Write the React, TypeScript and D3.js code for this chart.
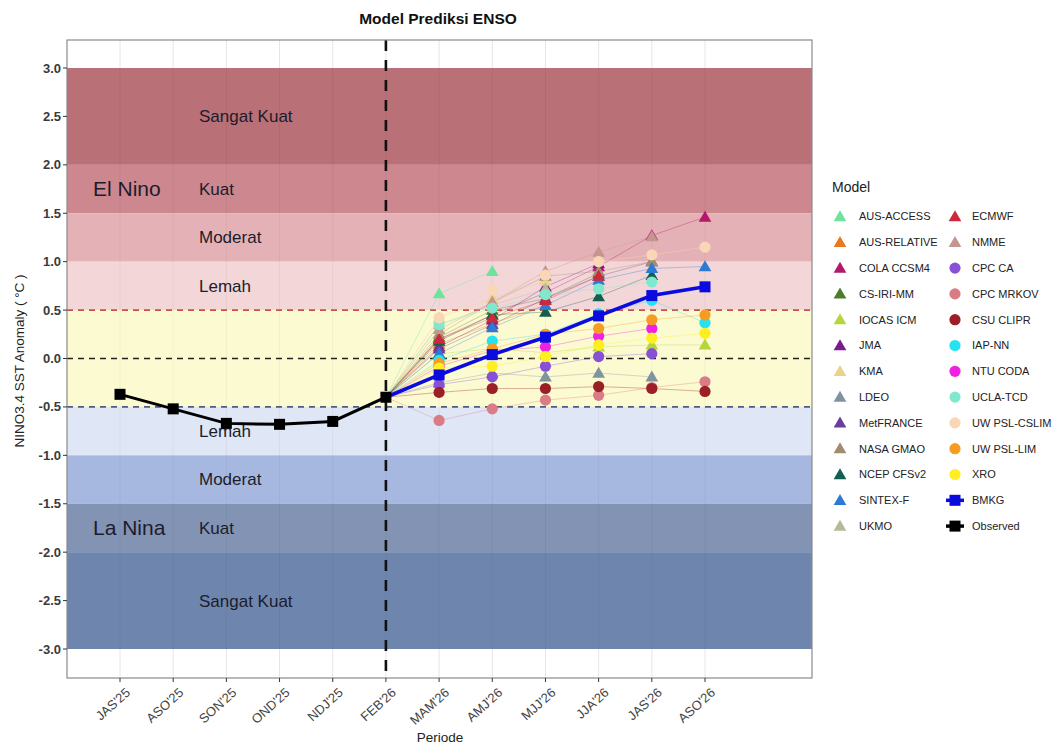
import React from 'react';
import * as d3 from 'd3';

const periods = ["JAS'25", "ASO'25", "SON'25", "OND'25", "NDJ'25", "FEB'26", "MAM'26", "AMJ'26", "MJJ'26", "JJA'26", "JAS'26", "ASO'26"];
const observedPeriods = periods.slice(0, 6);
const observedValues = [-0.37, -0.52, -0.67, -0.68, -0.65, -0.40];
const forecastPeriods = periods.slice(6);
const bmkgValues = [-0.17, 0.04, 0.22, 0.44, 0.65, 0.74];

type M = { name: string; shape: 'tri' | 'circ'; color: string; values: (number | null)[] };

const modelNames = ["AUS-ACCESS", "AUS-RELATIVE", "COLA CCSM4", "CS-IRI-MM", "IOCAS ICM", "JMA", "KMA", "LDEO", "MetFRANCE", "NASA GMAO", "NCEP CFSv2", "SINTEX-F", "UKMO", "ECMWF", "NMME", "CPC CA", "CPC MRKOV", "CSU CLIPR", "IAP-NN", "NTU CODA", "UCLA-TCD", "UW PSL-CSLIM", "UW PSL-LIM", "XRO"];
const modelShapes: ('tri' | 'circ')[] = ['tri', 'tri', 'tri', 'tri', 'tri', 'tri', 'tri', 'tri', 'tri', 'tri', 'tri', 'tri', 'tri', 'tri', 'tri', 'circ', 'circ', 'circ', 'circ', 'circ', 'circ', 'circ', 'circ', 'circ'];
const modelColors = ["#6ee39c", "#e8791f", "#b5176c", "#4d7c2c", "#b4d63c", "#7a1a8e", "#ead48c", "#7f949e", "#6a3f9c", "#a18c6c", "#125e50", "#2b7bd4", "#b9b99a", "#cc2a3c", "#c59590", "#8850d6", "#d97c86", "#9a1f26", "#24e2f2", "#f022e2", "#80e8cc", "#f9d6b6", "#f69c22", "#ffee22"];
const modelValues: (number | null)[][] = [
  [0.67, 0.90, null, null, null, null],
  [0.15, 0.36, 0.55, null, null, null],
  [0.20, 0.45, 0.68, 0.95, 1.27, 1.46],
  [0.22, 0.50, 0.62, 0.88, null, null],
  [0.05, 0.10, 0.06, 0.12, 0.14, 0.14],
  [0.12, 0.40, 0.74, 0.98, null, null],
  [0.42, 0.62, 0.80, null, null, null],
  [-0.25, -0.15, -0.19, -0.15, -0.19, null],
  [0.10, 0.35, 0.62, 0.85, 1.00, null],
  [0.25, 0.58, 0.85, 0.90, 1.00, null],
  [0.18, 0.45, 0.48, 0.64, 0.86, null],
  [0.05, 0.32, 0.55, 0.81, 0.93, 0.95],
  [0.35, 0.55, 0.72, null, null, null],
  [0.20, 0.42, 0.60, 0.85, null, null],
  [0.30, 0.58, 0.90, 1.10, 1.26, null],
  [-0.27, -0.19, -0.08, 0.02, 0.05, null],
  [-0.64, -0.52, -0.43, -0.38, -0.30, -0.24],
  [-0.35, -0.31, -0.31, -0.29, -0.31, -0.34],
  [-0.02, 0.18, 0.25, 0.46, 0.60, 0.37],
  [-0.08, 0.08, 0.12, 0.23, 0.31, null],
  [0.35, 0.52, 0.66, 0.72, 0.79, null],
  [0.42, 0.71, 0.86, 1.00, 1.07, 1.15],
  [-0.05, 0.10, 0.25, 0.31, 0.40, 0.45],
  [-0.10, -0.08, 0.02, 0.14, 0.21, 0.26],
];

const bandRanges: [number, number][] = [[2, 3], [1.5, 2], [1, 1.5], [0.5, 1], [-0.5, 0.5], [-1, -0.5], [-1.5, -1], [-2, -1.5], [-3, -2]];
const bandColors = ["#b5686f", "#c98189", "#e3aeb2", "#f2d4d5", "#fcfacd", "#dde5f5", "#a1b4de", "#7b8db0", "#6680aa"];
const bandLabels = ["Sangat Kuat", "Kuat", "Moderat", "Lemah", "", "Lemah", "Moderat", "Kuat", "Sangat Kuat"];
const groupLabels = ["El Nino", "La Nina"];
const groupValues = [1.75, -1.75];
const yTicks = [3, 2.5, 2, 1.5, 1, 0.5, 0, -0.5, -1, -1.5, -2, -2.5, -3];
const refLines = [0.5, 0, -0.5];
const refColors = ["#c8504e", "#222222", "#4c5a86"];

const models: M[] = modelNames.map((n, i) => ({ name: n, shape: modelShapes[i], color: modelColors[i], values: modelValues[i] }));

const W = 1054, H = 749;
const PL = 67, PR = 812, PT = 40, PB = 678;
const FONT = "'Liberation Sans', Arial, Helvetica, sans-serif";

const x = d3.scalePoint<string>().domain(periods).range([120, 705]);
const y = d3.scaleLinear().domain([-3, 3]).range([649, 68]);

function Tri({ cx, cy, s, color }: { cx: number; cy: number; s: number; color: string }) {
  const sym = d3.symbol().type(d3.symbolTriangle).size(s)();
  return <path d={sym || ''} transform={`translate(${cx},${cy + 1})`} fill={color} />;
}

export default function App() {
  const lineGen = d3.line<[string, number]>().x(d => x(d[0]) as number).y(d => y(d[1]));
  const startP = periods[5];
  const startV = observedValues[5];

  const legendRows = 13;
  const legendItems = [
    ...models.map(m => ({ name: m.name, kind: m.shape as string, color: m.color })),
    { name: 'BMKG', kind: 'bmkg', color: '#0b0be0' },
    { name: 'Observed', kind: 'obs', color: '#000000' },
  ];

  return (
    <svg width={W} height={H} style={{ position: 'absolute', left: 0, top: 0, background: '#fff' }} fontFamily={FONT}>
      <rect x={0} y={0} width={W} height={H} fill="#ffffff" />
      {periods.map(p => (
        <line key={p} x1={x(p)} x2={x(p)} y1={PT} y2={PB} stroke="#e6e6e6" strokeWidth={1} />
      ))}
      {bandRanges.map((r, i) => (
        <rect key={i} x={PL} width={PR - PL} y={y(r[1])} height={y(r[0]) - y(r[1])} fill={bandColors[i]} opacity={0.95} />
      ))}
      {periods.map(p => (
        <line key={'g' + p} x1={x(p)} x2={x(p)} y1={y(3)} y2={y(-3)} stroke="#000" strokeOpacity={0.04} strokeWidth={1} />
      ))}
      {bandLabels.map((l, i) => l ? (
        <text key={'bl' + i} x={199} y={y((bandRanges[i][0] + bandRanges[i][1]) / 2)} dy="0.35em" fontSize={17} fill="#1c1c2c">{l}</text>
      ) : null)}
      {groupLabels.map((g, i) => (
        <text key={g} x={93} y={y(groupValues[i])} dy="0.35em" fontSize={21} fill="#1c1c2c">{g}</text>
      ))}
      {refLines.map((v, i) => (
        <line key={'r' + v} x1={PL} x2={PR} y1={y(v)} y2={y(v)} stroke={refColors[i]} strokeWidth={1.6} strokeDasharray="6,5" />
      ))}
      <line x1={x(startP)} x2={x(startP)} y1={PT} y2={PB} stroke="#111" strokeWidth={2.6} strokeDasharray="11,9" />
      {models.map(m => {
        const pts: [string, number][] = [[startP, startV]];
        m.values.forEach((v, i) => { if (v !== null) pts.push([forecastPeriods[i], v]); });
        return <path key={'l' + m.name} d={lineGen(pts) || ''} fill="none" stroke={m.color} strokeOpacity={0.35} strokeWidth={1} />;
      })}
      {models.map(m => m.values.map((v, i) => v === null ? null : (
        m.shape === 'tri'
          ? <Tri key={m.name + i} cx={x(forecastPeriods[i]) as number} cy={y(v)} s={70} color={m.color} />
          : <circle key={m.name + i} cx={x(forecastPeriods[i])} cy={y(v)} r={5.6} fill={m.color} />
      )))}
      <path d={lineGen([[startP, startV], ...forecastPeriods.map((p, i) => [p, bmkgValues[i]] as [string, number])]) || ''} fill="none" stroke="#0b0be0" strokeWidth={3.6} />
      {forecastPeriods.map((p, i) => (
        <rect key={'b' + p} x={(x(p) as number) - 5.5} y={y(bmkgValues[i]) - 5.5} width={11} height={11} fill="#0b0be0" />
      ))}
      <path d={lineGen(observedPeriods.map((p, i) => [p, observedValues[i]] as [string, number])) || ''} fill="none" stroke="#000" strokeWidth={3} />
      {observedPeriods.map((p, i) => (
        <rect key={'o' + p} x={(x(p) as number) - 5.5} y={y(observedValues[i]) - 5.5} width={11} height={11} fill="#000" />
      ))}
      <rect x={PL} y={PT} width={PR - PL} height={PB - PT} fill="none" stroke="#8a8a8a" strokeWidth={1.2} />
      {yTicks.map(t => (
        <g key={'yt' + t}>
          <line x1={PL - 4} x2={PL} y1={y(t)} y2={y(t)} stroke="#333" strokeWidth={1} />
          <text x={PL - 6} y={y(t)} dy="0.35em" textAnchor="end" fontSize={13} fontWeight="bold" fill="#3a3a3a">{t.toFixed(1)}</text>
        </g>
      ))}
      <text transform={`translate(24,${(PT + PB) / 2 + 2}) rotate(-90)`} textAnchor="middle" fontSize={13.5} fill="#222">NINO3.4 SST Anomaly (  °C )</text>
      {periods.map(p => (
        <g key={'xt' + p}>
          <line x1={x(p)} x2={x(p)} y1={PB} y2={PB + 4} stroke="#333" strokeWidth={1} />
          <text transform={`translate(${(x(p) as number) + 5},${PB + 9}) rotate(-42)`} textAnchor="end" dy="0.7em" fontSize={13} fill="#444">{p}</text>
        </g>
      ))}
      <text x={440} y={742} textAnchor="middle" fontSize={13.5} fill="#222">Periode</text>
      <text x={438} y={24} textAnchor="middle" fontSize={15.5} fontWeight="bold" fill="#111">Model Prediksi ENSO</text>
      <text x={832} y={192} fontSize={14} fill="#222">Model</text>
      {legendItems.map((it, i) => {
        const col = Math.floor(i / legendRows);
        const row = i % legendRows;
        const sx = col === 0 ? 840 : 955;
        const tx = col === 0 ? 859 : 972;
        const cy = 216.5 + row * 25.8;
        let sym: React.ReactNode;
        if (it.kind === 'tri') sym = <Tri cx={sx} cy={cy} s={70} color={it.color} />;
        else if (it.kind === 'circ') sym = <circle cx={sx} cy={cy} r={5.6} fill={it.color} />;
        else sym = (
          <g>
            <line x1={sx - 9} x2={sx + 9} y1={cy} y2={cy} stroke={it.color} strokeWidth={3.5} />
            <rect x={sx - 5.5} y={cy - 5.5} width={11} height={11} fill={it.color} />
          </g>
        );
        return (
          <g key={'lg' + it.name}>
            {sym}
            <text x={tx} y={cy} dy="0.35em" fontSize={11} fill="#222">{it.name}</text>
          </g>
        );
      })}
    </svg>
  );
}
